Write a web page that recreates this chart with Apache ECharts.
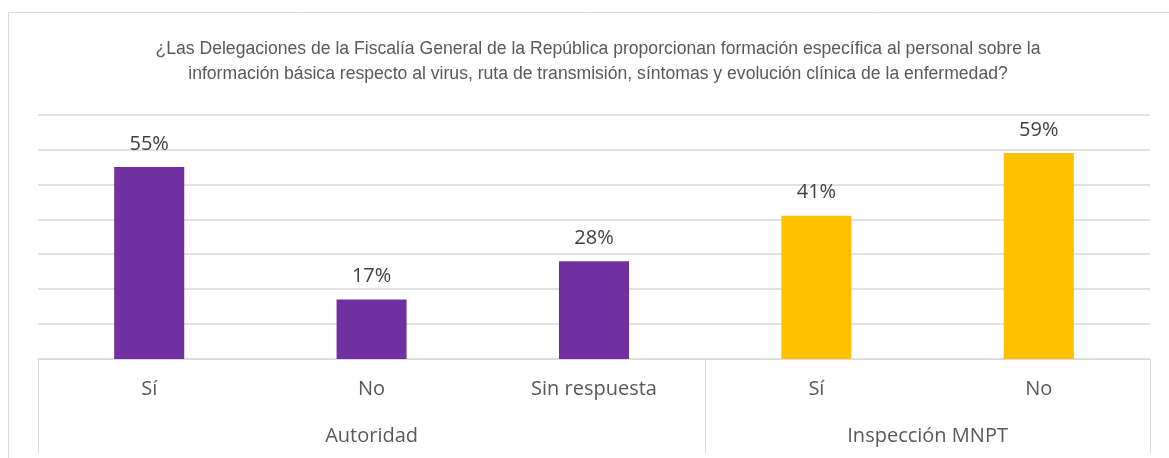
<!DOCTYPE html>
<html>
<head>
<meta charset="utf-8">
<script src="https://cdn.jsdelivr.net/npm/echarts@6/dist/echarts.min.js"></script>
<style>
  html, body { margin: 0; padding: 0; background: #fff; }
  #chart { width: 1169px; height: 458px; }
</style>
</head>
<body>
<div id="chart"></div>
<script>
  // datos
  const categories = ['Sí', 'No', 'Sin respuesta', 'Sí', 'No'];
  const groups = ['Autoridad', 'Inspección MNPT'];
  const groupCenters = [1.5, 4];
  const groupBounds = [0, 3, 5];
  const values = [55, 17, 28, 41, 59];
  const barColors = ['#7030A0', '#7030A0', '#7030A0', '#FFC000', '#FFC000'];
  const titleText = '¿Las Delegaciones de la Fiscalía General de la República proporcionan formación específica al personal sobre la\ninformación básica respecto al virus, ruta de transmisión, síntomas y evolución clínica de la enfermedad?';

  const myChart = echarts.init(document.getElementById('chart'));

  const option = {
    animation: false,
    title: {
      text: titleText,
      left: 593,
      textAlign: 'center',
      top: 32,
      textStyle: {
        fontFamily: 'Liberation Sans',
        fontSize: 17.6,
        fontWeight: 'normal',
        color: '#595959',
        lineHeight: 25
      }
    },
    graphic: [{
      type: 'rect',
      shape: { x: 8.5, y: 12.5, width: 1200, height: 500 },
      style: { fill: 'none', stroke: '#d9d9d9', lineWidth: 1 },
      silent: true
    }],
    grid: {
      left: 38,
      right: 19,
      top: 114.5,
      bottom: 99,
      containLabel: false
    },
    xAxis: [{
      type: 'category',
      data: categories,
      position: 'bottom',
      axisLine: { lineStyle: { color: '#d9d9d9', width: 1 } },
      axisTick: { show: false },
      axisLabel: {
        margin: 20,
        fontFamily: 'Open Sans',
        fontSize: 20,
        color: '#595959'
      },
      splitLine: { show: false }
    }, {
      type: 'value',
      min: 0,
      max: 5,
      position: 'bottom',
      axisLine: { show: false },
      axisTick: {
        show: true,
        customValues: groupBounds,
        length: 94,
        lineStyle: { color: '#d9d9d9', width: 1 }
      },
      axisLabel: {
        customValues: groupCenters,
        margin: 67,
        fontFamily: 'Open Sans',
        fontSize: 20,
        color: '#595959',
        formatter: function (v) {
          const i = groupCenters.indexOf(v);
          return i >= 0 ? groups[i] : '';
        }
      },
      splitLine: { show: false }
    }],
    yAxis: {
      type: 'value',
      min: 0,
      max: 70,
      interval: 10,
      axisLine: { show: false },
      axisTick: { show: false },
      axisLabel: { show: false },
      splitLine: { lineStyle: { color: '#d9d9d9', width: 1.5 } }
    },
    series: [{
      type: 'bar',
      xAxisIndex: 0,
      barWidth: '31.5%',
      data: values.map((v, i) => ({
        value: v,
        itemStyle: { color: barColors[i] }
      })),
      label: {
        show: true,
        position: 'top',
        distance: 13,
        formatter: '{c}%',
        fontFamily: 'Open Sans',
        fontSize: 20,
        color: '#404040'
      }
    }]
  };

  myChart.setOption(option);
</script>
</body>
</html>
